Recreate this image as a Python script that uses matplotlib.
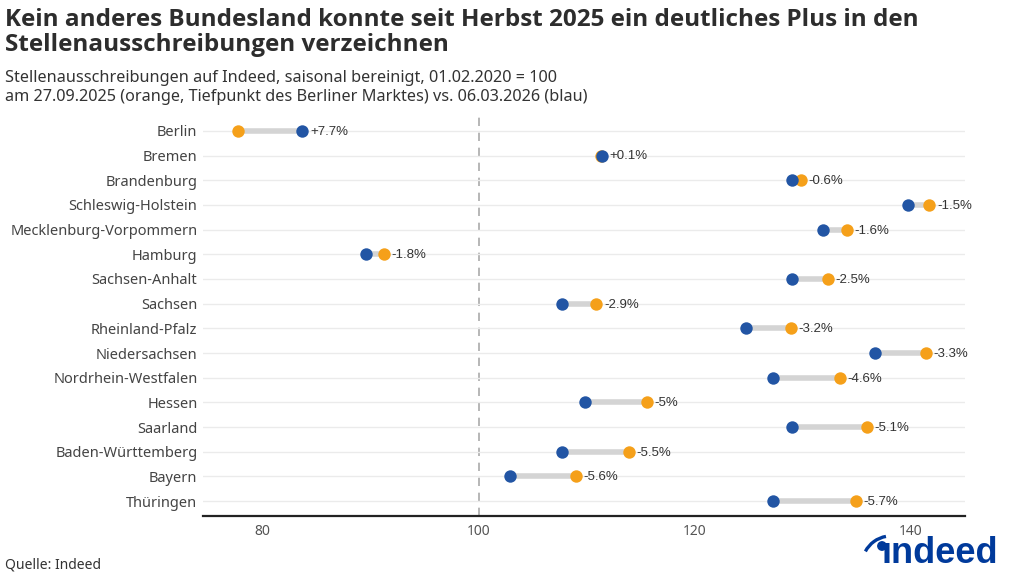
import matplotlib
matplotlib.use("Agg")
import matplotlib.pyplot as plt
from matplotlib.patches import Arc, Circle

# --------------------------------------------------------------------------------
# Data
# --------------------------------------------------------------------------------
states = [
    "Berlin", "Bremen", "Brandenburg", "Schleswig-Holstein",
    "Mecklenburg-Vorpommern", "Hamburg", "Sachsen-Anhalt", "Sachsen",
    "Rheinland-Pfalz", "Niedersachsen", "Nordrhein-Westfalen", "Hessen",
    "Saarland", "Baden-Württemberg", "Bayern", "Thüringen",
]
sep_2025 = [77.7, 111.3, 129.8, 141.7, 134.1, 91.2, 132.3, 110.9,
            128.9, 141.4, 133.4, 115.6, 135.9, 113.9, 109.0, 134.9]
mar_2026 = [83.7, 111.4, 129.0, 139.7, 131.9, 89.6, 129.0, 107.7,
            124.7, 136.7, 127.2, 109.8, 129.0, 107.7, 102.9, 127.2]
change_labels = ["+7.7%", "+0.1%", "-0.6%", "-1.5%", "-1.6%", "-1.8%", "-2.5%",
                 "-2.9%", "-3.2%", "-3.3%", "-4.6%", "-5%", "-5.1%", "-5.5%",
                 "-5.6%", "-5.7%"]

ORANGE = "#F5A01A"
BLUE = "#2255A4"
LOGO_BLUE = "#003A9B"

plt.rcParams["font.family"] = ["Noto Sans", "DejaVu Sans"]

fig = plt.figure(figsize=(10.24, 5.85), dpi=100)
ax = fig.add_axes([203 / 1024, 1 - 516 / 585, 762 / 1024, 400 / 585])

ypos = list(range(len(states)))
for y, a, b, lab in zip(ypos, sep_2025, mar_2026, change_labels):
    ax.plot([a, b], [y, y], color="#D4D4D4", lw=4, solid_capstyle="butt", zorder=2)
    ax.text(max(a, b) + 0.7, y + 0.04, lab, va="center", ha="left", fontsize=9.5,
            color="#333333", family=["Liberation Sans", "DejaVu Sans"], zorder=4)

ax.scatter(sep_2025, ypos, s=80, color=ORANGE, zorder=3, linewidths=0)
ax.scatter(mar_2026, ypos, s=80, color=BLUE, zorder=3, linewidths=0)

ax.axvline(100, color="#AAAAAA", lw=1.2, ls=(0, (5, 4)), zorder=1)

ax.set_xlim(74.5, 145)
ax.set_ylim(15.6, -0.6)
ax.set_yticks(ypos)
ax.set_yticklabels(states, fontsize=10.5, color="#444444")
ax.set_xticks([80, 100, 120, 140])
ax.tick_params(axis="x", labelsize=10, colors="#555555", length=0, pad=6)
ax.tick_params(axis="y", length=0, pad=4)
ax.grid(axis="y", color="#EBEBEB", lw=1, zorder=0)
ax.grid(axis="x", visible=False)
for side in ["top", "right", "left"]:
    ax.spines[side].set_visible(False)
ax.spines["bottom"].set_color("#222222")
ax.spines["bottom"].set_linewidth(1.6)

# Titles (Open Sans has a real bold face, close to the reference's Noto Sans)
title_font = ["Open Sans", "Noto Sans", "DejaVu Sans"]
fig.text(5 / 1024, 1 - 20 / 585,
         "Kein anderes Bundesland konnte seit Herbst 2025 ein deutliches Plus in den",
         fontsize=17.5, fontweight="bold", color="#2D2D2D", va="center",
         family=title_font)
fig.text(5 / 1024, 1 - 45 / 585, "Stellenausschreibungen verzeichnen",
         fontsize=17.5, fontweight="bold", color="#2D2D2D", va="center",
         family=title_font)
fig.text(5 / 1024, 1 - 78 / 585,
         "Stellenausschreibungen auf Indeed, saisonal bereinigt, 01.02.2020 = 100",
         fontsize=11.7, color="#333333", va="center")
fig.text(5 / 1024, 1 - 97 / 585,
         "am 27.09.2025 (orange, Tiefpunkt des Berliner Marktes) vs. 06.03.2026 (blau)",
         fontsize=11.7, color="#333333", va="center")
fig.text(5 / 1024, 1 - 565 / 585, "Quelle: Indeed", fontsize=10,
         color="#333333", va="center")

# Indeed logo (approximation), drawn in an axes that uses pixel units (y up)
logo_ax = fig.add_axes([850 / 1024, 0, 174 / 1024, 47 / 585])
logo_ax.set_xlim(850, 1024)
logo_ax.set_ylim(0, 47)
logo_ax.axis("off")
logo_ax.text(998, 585 - 563, "\u0131ndeed", fontsize=26, fontweight="bold",
             color=LOGO_BLUE, ha="right", va="baseline",
             family=["Liberation Sans", "DejaVu Sans"])
logo_ax.add_patch(Circle((882, 585 - 546), 4.2, color=LOGO_BLUE, clip_on=False))
logo_ax.add_patch(Arc((891, 585 - 565), 58, 58, theta1=100, theta2=152,
                      color=LOGO_BLUE, lw=2.4, clip_on=False))

fig.savefig("out.png", dpi=100)
